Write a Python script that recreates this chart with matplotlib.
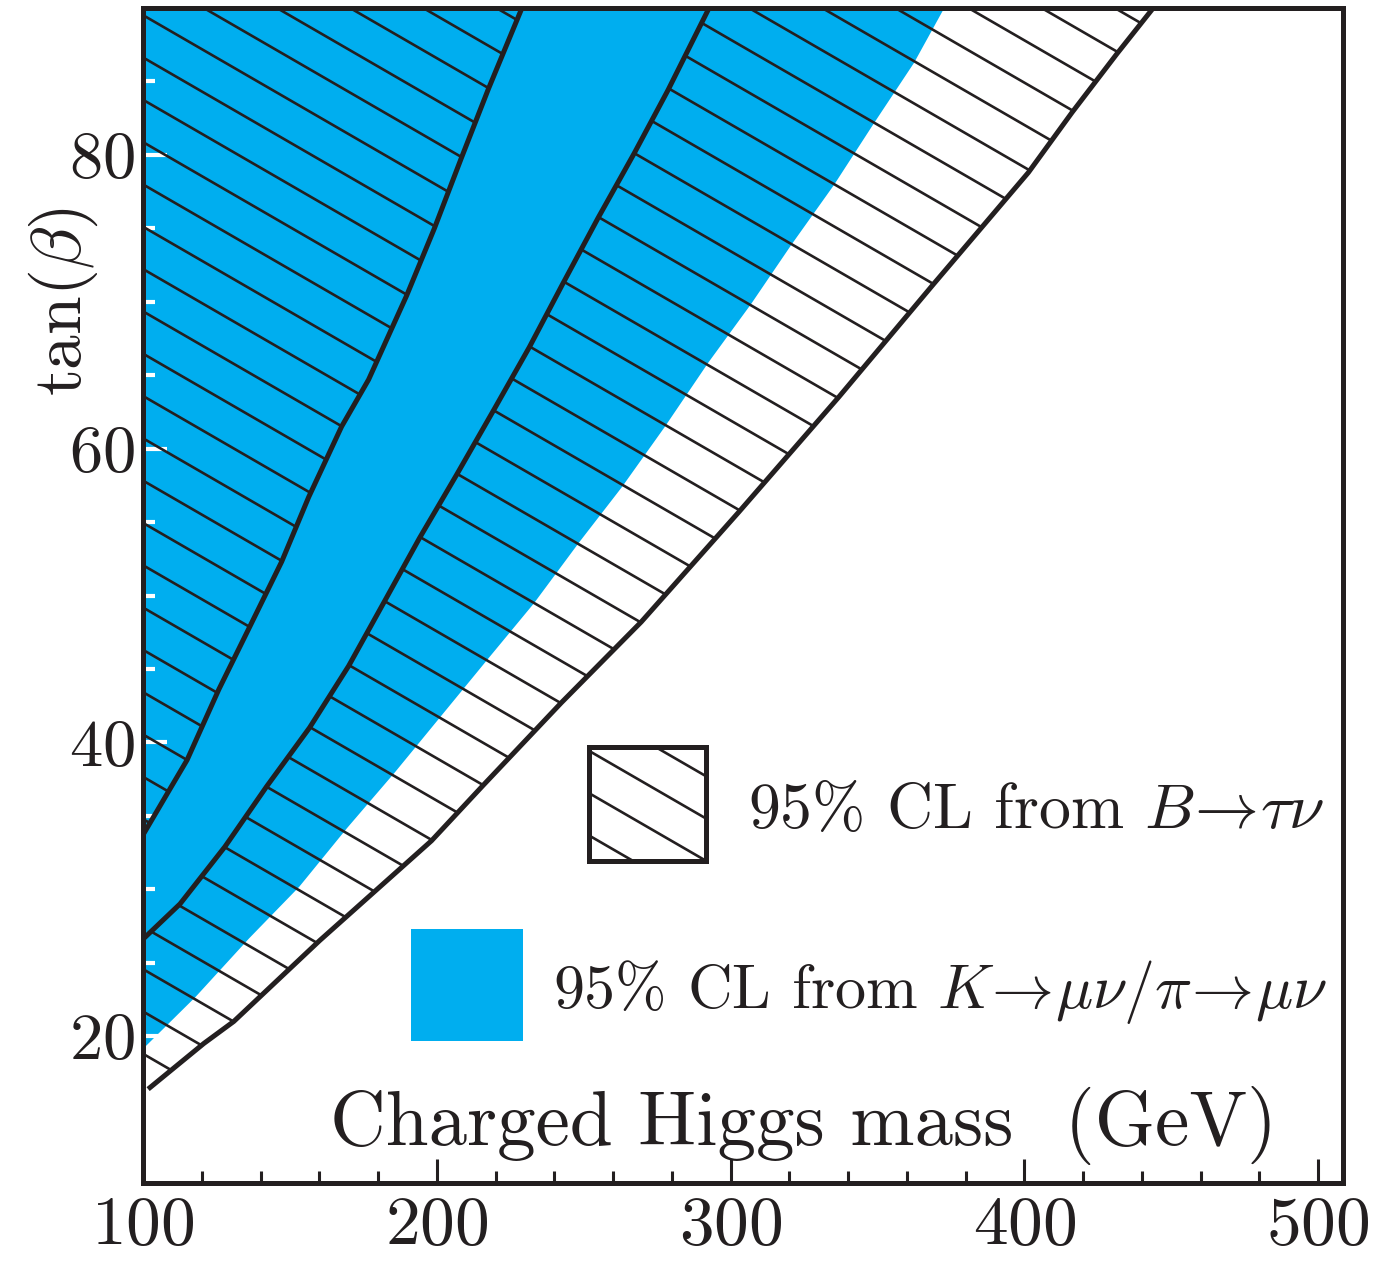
import numpy as np
import matplotlib.pyplot as plt
from matplotlib.collections import LineCollection
from matplotlib.patches import Polygon, Rectangle

plt.rcParams['font.family'] = 'cmr10'
plt.rcParams['mathtext.fontset'] = 'cm'
plt.rcParams['axes.formatter.use_mathtext'] = True

INK = '#231f20'
CYAN = '#00aeef'

# K->mu nu / pi->mu nu 95% CL edge (excluded to the left of it)
k_mass = [100, 117.7, 136.0, 153.0, 169.3, 185.6, 201.6, 217.6, 232.9, 248.1,
          262.8, 277.4, 292.3, 306.9, 320.5, 335.1, 348.7, 362.3, 372.5]
k_tanb = [19.2, 22.7, 26.7, 30.2, 34.2, 38.0, 41.9, 45.8, 49.5, 53.6,
          57.4, 61.5, 65.9, 69.9, 73.9, 78.0, 82.2, 86.3, 90.0]

# B->tau nu 95% CL: left edge of the allowed (fine-tuned) band
a_mass = [100, 108.8, 115.0, 125.8, 136.4, 147.2, 156.4, 167.6, 176.8, 189.7,
          199.2, 208.4, 217.6, 229.0]
a_tanb = [33.7, 36.7, 38.8, 43.6, 47.9, 52.3, 56.7, 61.5, 64.7, 70.4,
          75.0, 79.8, 84.5, 90.0]

# right edge of the allowed band
b_mass = [100, 112.6, 127.9, 142.1, 156.7, 170.0, 182.2, 194.1, 206.7, 219.6,
          231.5, 243.1, 254.9, 267.2, 278.7, 292.7]
b_tanb = [26.6, 29.0, 32.9, 37.0, 41.0, 45.2, 49.6, 53.9, 58.2, 62.7,
          66.9, 71.3, 75.7, 80.1, 84.4, 90.0]

# outer edge of the excluded region
c_mass = [102.4, 120.7, 130.9, 160.1, 198.2, 215.9, 242.4, 269.6, 302.9,
          336.8, 369.1, 401.4, 416.3, 431.6, 443.9]
c_tanb = [16.5, 19.5, 21.0, 26.5, 33.3, 37.1, 42.7, 48.2, 55.7,
          63.5, 71.2, 78.8, 82.9, 86.9, 90.0]

x_major = [100, 200, 300, 400, 500]
y_major = [20, 40, 60, 80]
y_minor = [15, 25, 30, 35, 45, 50, 55, 65, 70, 75, 85]

XMIN, XMAX, YMIN, YMAX = 100, 508.5, 10, 90

# hatch geometry (data units)
H_STEP = 24.9      # spacing of line starts along the top edge
H_SLOPE = 0.1157   # d(tan b)/d(mass), lines fall to the right


def hatch(ax, patch, x_top, top, z=2):
    segs = []
    for i in range(-40, 40):
        x0 = x_top + i * H_STEP
        segs.append([(x0, top), (x0 + 900, top - H_SLOPE * 900)])
    lc = LineCollection(segs, colors=INK, linewidths=1.9, zorder=z)
    ax.add_collection(lc)
    lc.set_clip_path(patch)
    return lc


fig = plt.figure(figsize=(13.81, 12.63), dpi=100)
ax = fig.add_axes([143 / 1381, 1 - 1183 / 1263, 1200 / 1381, 1175 / 1263])
ax.set_xlim(XMIN, XMAX)
ax.set_ylim(YMIN, YMAX)

# blue region
ax.fill_betweenx(k_tanb, XMIN, k_mass, color=CYAN, lw=0, zorder=1)

# hatched region left of the band
left_poly = Polygon(list(zip(a_mass, a_tanb)) + [(XMIN, YMAX)],
                    closed=True, fill=False, lw=0)
ax.add_patch(left_poly)
hatch(ax, left_poly, 120.7, YMAX)

# hatched region right of the band
c_slope = (c_tanb[1] - c_tanb[0]) / (c_mass[1] - c_mass[0])
c_start = c_tanb[0] - c_slope * (c_mass[0] - XMIN)
right_pts = (list(zip(c_mass, c_tanb)) + list(zip(b_mass, b_tanb))[::-1]
             + [(XMIN, c_start)])
right_poly = Polygon(right_pts, closed=True, fill=False, lw=0)
ax.add_patch(right_poly)
hatch(ax, right_poly, 306.3, YMAX)

for xs, ys in [(a_mass, a_tanb), (b_mass, b_tanb), (c_mass, c_tanb)]:
    ax.plot(xs, ys, color=INK, lw=3.6, zorder=3, solid_joinstyle='miter')

# legend keys
bx, by, bw, bh = 251.9, 31.9, 39.7, 7.76
key_clip = Polygon([(bx, by), (bx + bw, by), (bx + bw, by + bh), (bx, by + bh)],
                   closed=True, facecolor='white', lw=0, zorder=4)
ax.add_patch(key_clip)
hatch(ax, key_clip, 249.8, by + bh, z=4.5)
ax.add_patch(Rectangle((bx, by), bw, bh, fill=False,
                       edgecolor=INK, lw=3.6, zorder=5))
ax.add_patch(Rectangle((191.4, 19.66), 38.1, 7.64, facecolor=CYAN,
                       lw=0, zorder=4))

ax.text(0.504, 0.302, r'95% CL from $B\!\rightarrow\!\tau\nu$',
        transform=ax.transAxes, fontsize=46, color=INK, va='baseline')
ax.text(0.342, 0.149,
        r'95% CL from $K\!\rightarrow\!\mu\nu/\pi\!\rightarrow\!\mu\nu$',
        transform=ax.transAxes, fontsize=44.6, color=INK, va='baseline')
ax.text(0.156, 0.032, 'Charged Higgs mass  (GeV)', transform=ax.transAxes,
        fontsize=55.5, color=INK, va='baseline')
ax.text(-0.066, 0.75, r'$\tan(\beta)$', transform=ax.transAxes,
        fontsize=50, color=INK, rotation=90, ha='center', va='center')

# ticks
ax.set_xticks(x_major)
ax.set_xticks(np.arange(120, 500, 20), minor=True)
ax.set_yticks(y_major)
ax.set_yticks(y_minor, minor=True)
ax.tick_params(axis='x', which='both', direction='in', top=False,
               color=INK, width=2.2, labelsize=50, labelcolor=INK, pad=9)
ax.tick_params(axis='x', which='major', length=17)
ax.tick_params(axis='x', which='minor', length=8.5)
ax.tick_params(axis='y', which='both', direction='in', right=False,
               color='white', width=3, labelsize=48, labelcolor=INK, pad=6)
ax.tick_params(axis='y', which='major', length=17)
ax.tick_params(axis='y', which='minor', length=8.5)
ax.yaxis.get_minor_ticks()[0].tick1line.set_color(INK)

for s in ax.spines.values():
    s.set_linewidth(3.6)
    s.set_color(INK)
    s.set_zorder(6)

fig.savefig('out.png', dpi=100)
